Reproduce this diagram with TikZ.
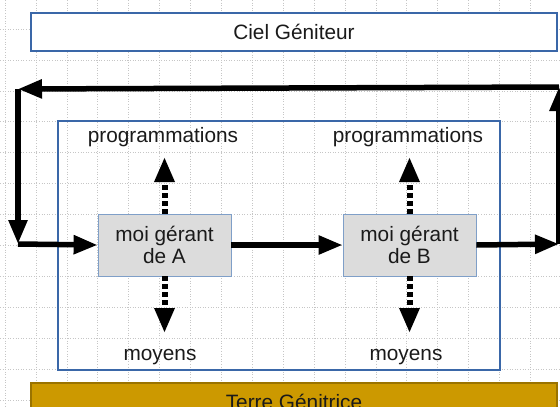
\documentclass[tikz,border=0pt]{standalone}
\usepackage{fontspec}
\setmainfont{Liberation Sans}
\usepackage{tikz}
\usetikzlibrary{arrows.meta, positioning}
\definecolor{cadre}{HTML}{3A67A8}
\definecolor{gris}{HTML}{DCDCDC}
\definecolor{grisbord}{HTML}{7F9FC8}
\definecolor{terre}{HTML}{CC9900}
\definecolor{terrebord}{HTML}{9A7300}
\definecolor{encre}{HTML}{1A1A1A}
\tikzstyle{bande} = [rectangle, minimum width=526pt, minimum height=38pt, text centered, draw=cadre, line width=2.5pt, text=encre, font=\fontsize{20.8}{24}\selectfont]
\tikzstyle{gerant} = [rectangle, minimum width=133pt, minimum height=62pt, align=center, draw=grisbord, fill=gris, line width=0.8pt, text=encre, font=\fontsize{20.8}{22}\selectfont]
\tikzstyle{etiquette} = [text=encre, font=\fontsize{20.8}{24}\selectfont]
\tikzstyle{fleche} = [line width=5.5pt, -{Triangle[length=24pt,width=18pt]}]
\tikzstyle{pointille} = [line width=6pt, dash pattern=on 5pt off 3pt, -{Triangle[length=25pt,width=19pt]}]
\tikzstyle{trame} = [gray!45, line width=0.6pt, dotted]

\begin{document}
\begin{tikzpicture}[x=1pt, y=-1pt, node distance=245pt]
        \clip (0,0) rectangle (560,407);
        \fill[white] (0,0) rectangle (560,407);
        % fond quadrille
        \foreach \i in {0,...,18} \draw[trame] (5+30.9*\i,0) -- (5+30.9*\i,407);
        \foreach \j in {-1,...,12} \draw[trame] (0,29+30.9*\j) -- (560,29+30.9*\j);

        \node (ciel) [bande, fill=white] at (294,32) {Ciel Géniteur};
        \node (terre) [bande, draw=terrebord, fill=terre] at (294,402) {Terre Génitrice};
        \node (cadre) [draw=cadre, line width=2.2pt, minimum width=442pt, minimum height=249pt] at (279,245.5) {};

        \node (gA) [gerant] at (164.5,245) {moi gérant\\de A};
        \node (gB) [gerant, right of=gA] {moi gérant\\de B};
        \node (progA) [etiquette] at (163,137) {programmations};
        \node (progB) [etiquette] at (408,137) {programmations};
        \node (moyA) [etiquette] at (160,357) {moyens};
        \node (moyB) [etiquette] at (406,357) {moyens};

        \coordinate (hautA) at (164.5,157);
        \coordinate (basA) at (164.5,333);
        \coordinate (hautB) at (409.5,157);
        \coordinate (basB) at (409.5,333);
        \coordinate (gauche) at (18,244);
        \coordinate (gaucheh) at (18,89);
        \coordinate (droite) at (559,244);
        \coordinate (droiteh) at (559,87);

        \draw [pointille] (gA.north) -- (hautA);
        \draw [pointille] (gA.south) -- (basA);
        \draw [pointille] (gB.north) -- (hautB);
        \draw [pointille] (gB.south) -- (basB);

        \draw [fleche] (gA) -- (gB);
        \draw [fleche] (gB.east) -- (droite);
        \draw [fleche] (droite) -- (droiteh);
        \draw [fleche] (droiteh) -- (gaucheh);
        \draw [fleche] (gaucheh) -- (gauche);
        \draw [fleche] (gauche) -- (gA.west);
    \end{tikzpicture}
\end{document}
